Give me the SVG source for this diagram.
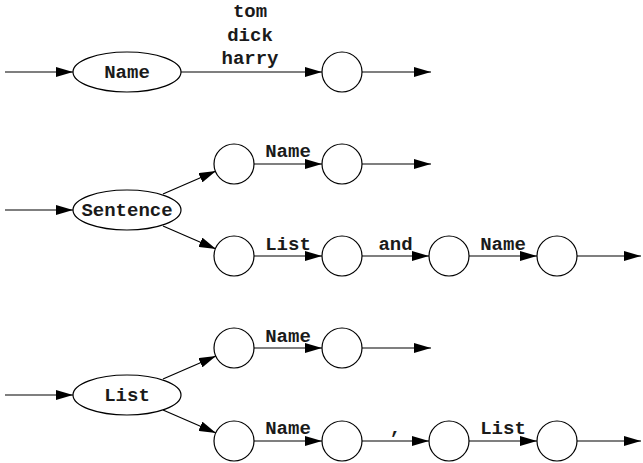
<svg xmlns="http://www.w3.org/2000/svg" width="643" height="463" viewBox="0 0 643 463">
<defs>
<marker id="ah" markerUnits="userSpaceOnUse" markerWidth="17" markerHeight="10" refX="17" refY="5" orient="auto">
<path d="M0,0 L17,5 L0,10 z" fill="#000"/>
</marker>
<style>
.n{fill:#fff;stroke:#000;stroke-width:1.2}
.c{fill:none;stroke:#000;stroke-width:1.2;marker-end:url(#ah)}
text{font-family:"Liberation Mono","Courier New",monospace;font-weight:bold;font-size:19px;fill:#1a1a1a;text-anchor:middle}
</style>
</defs>
<rect width="643" height="463" fill="#fff"/>
<g id="connectors">
<line class="c" x1="5" y1="72" x2="73" y2="72"/>
<line class="c" x1="181" y1="72" x2="322" y2="72"/>
<line class="c" x1="362" y1="72" x2="431" y2="72"/>
<line class="c" x1="5" y1="210" x2="73" y2="210"/>
<line class="c" x1="163" y1="194" x2="216" y2="171"/>
<line class="c" x1="163" y1="226" x2="216" y2="249"/>
<line class="c" x1="254" y1="164" x2="322" y2="164"/>
<line class="c" x1="362" y1="164" x2="431" y2="164"/>
<line class="c" x1="254" y1="256" x2="322" y2="256"/>
<line class="c" x1="362" y1="256" x2="429" y2="256"/>
<line class="c" x1="469" y1="256" x2="537" y2="256"/>
<line class="c" x1="577" y1="256" x2="641" y2="256"/>
<line class="c" x1="5" y1="395" x2="73" y2="395"/>
<line class="c" x1="163" y1="379" x2="216" y2="356"/>
<line class="c" x1="163" y1="410" x2="216" y2="433"/>
<line class="c" x1="254" y1="348" x2="322" y2="348"/>
<line class="c" x1="362" y1="348" x2="431" y2="348"/>
<line class="c" x1="254" y1="441" x2="322" y2="441"/>
<line class="c" x1="362" y1="441" x2="429" y2="441"/>
<line class="c" x1="469" y1="441" x2="537" y2="441"/>
<line class="c" x1="577" y1="441" x2="641" y2="441"/>
<text x="250" y="17">tom</text>
<text x="250" y="40.5">dick</text>
<text x="250" y="63.5">harry</text>
<text x="288" y="157">Name</text>
<text x="288" y="249.5">List</text>
<text x="395.5" y="249.5">and</text>
<text x="503" y="249.5">Name</text>
<text x="288" y="341.5">Name</text>
<text x="288" y="434">Name</text>
<text x="395.5" y="434">,</text>
<text x="503" y="434">List</text>
</g>
<g id="name-rule">
<ellipse class="n" cx="127" cy="72" rx="54" ry="20"/>
<text x="127" y="78">Name</text>
</g>
<g id="name-end"><circle class="n" cx="342" cy="72" r="20"/></g>
<g id="sentence-rule">
<ellipse class="n" cx="127" cy="210" rx="54" ry="20"/>
<text x="127" y="216">Sentence</text>
</g>
<g id="s1a"><circle class="n" cx="234" cy="164" r="20"/></g>
<g id="s1b"><circle class="n" cx="342" cy="164" r="20"/></g>
<g id="s2a"><circle class="n" cx="234" cy="256" r="20"/></g>
<g id="s2b"><circle class="n" cx="342" cy="256" r="20"/></g>
<g id="s2c"><circle class="n" cx="449" cy="256" r="20"/></g>
<g id="s2d"><circle class="n" cx="557" cy="256" r="20"/></g>
<g id="list-rule">
<ellipse class="n" cx="127" cy="395" rx="54" ry="20"/>
<text x="127" y="401">List</text>
</g>
<g id="l1a"><circle class="n" cx="234" cy="348" r="20"/></g>
<g id="l1b"><circle class="n" cx="342" cy="348" r="20"/></g>
<g id="l2a"><circle class="n" cx="234" cy="441" r="20"/></g>
<g id="l2b"><circle class="n" cx="342" cy="441" r="20"/></g>
<g id="l2c"><circle class="n" cx="449" cy="441" r="20"/></g>
<g id="l2d"><circle class="n" cx="557" cy="441" r="20"/></g>
</svg>
